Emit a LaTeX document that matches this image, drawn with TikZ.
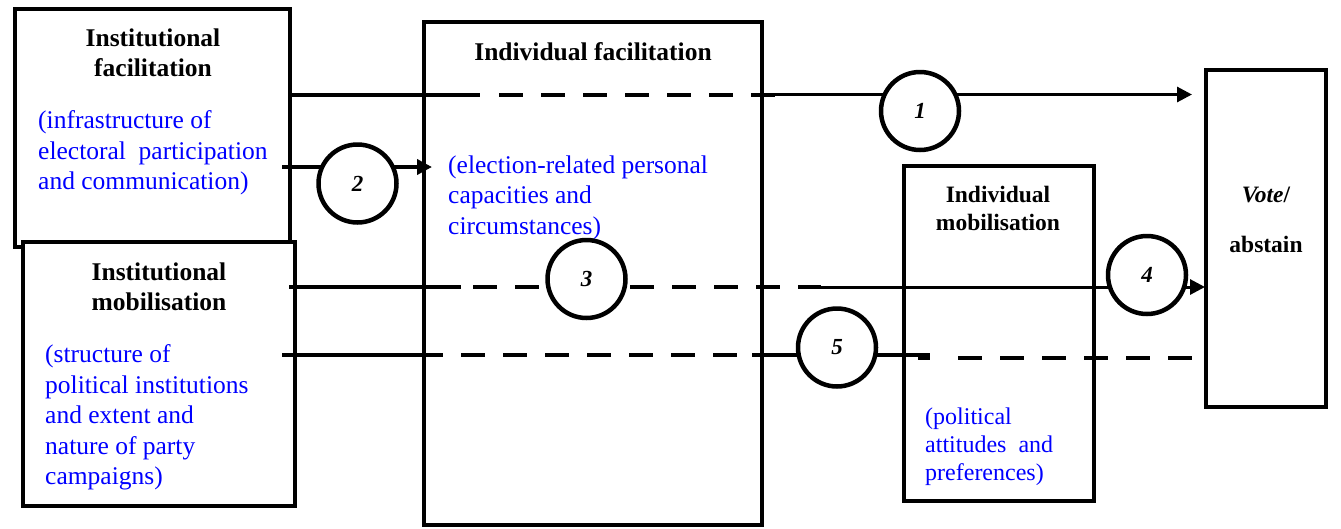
\documentclass[tikz,border=0pt]{standalone}
\usepackage{fontspec}
\setmainfont{Liberation Serif}
\usetikzlibrary{arrows.meta}
\definecolor{descblue}{RGB}{0,0,255}
\begin{document}
\begin{tikzpicture}[x=1pt,y=-1pt,
  box/.style={draw, line width=4.5pt, fill=white, inner sep=0pt, outer sep=0pt},
  ttl/.style={font=\fontsize{25.5}{30}\selectfont\bfseries, align=center, inner sep=0pt, anchor=north},
  ttlsmall/.style={font=\fontsize{23.5}{28}\selectfont\bfseries, align=center, inner sep=0pt, anchor=north},
  desc/.style={font=\fontsize{25.5}{30.5}\selectfont, text=descblue, align=left, inner sep=0pt, anchor=north west},
  descsmall/.style={font=\fontsize{24}{28}\selectfont, text=descblue, align=left, inner sep=0pt, anchor=north west},
  num/.style={draw, circle, line width=4.5pt, fill=white, minimum size=78pt, inner sep=0pt, font=\fontsize{23}{23}\selectfont\bfseries\itshape},
  thickline/.style={line width=4pt},
  thinline/.style={line width=3pt},
  dashline/.style={line width=4pt, dash pattern=on 24pt off 18pt},
  tip/.style={-{Triangle[length=15pt,width=15pt]}}
]
\useasboundingbox (0,0) rectangle (1341,528);

% boxes
\node[box, minimum width=275pt, minimum height=238pt] (instfac) at (152.5,128) {};
\node[box, minimum width=272pt, minimum height=264pt] (instmob) at (159,374) {};
\node[box, minimum width=338pt, minimum height=503pt] (indfac) at (593,273.5) {};
\node[box, minimum width=190pt, minimum height=335pt] (indmob) at (999,333.5) {};
\node[box, minimum width=120pt, minimum height=337pt] (vote) at (1266,238.5) {};

% texts
\node[ttl] (t1) at (153,28.5) {Institutional\\facilitation};
\node[desc] (d1) at (38,110.5) {(infrastructure of\\electoral~~participation\\and communication)};
\node[ttl] (t2) at (159,262.5) {Institutional\\mobilisation};
\node[desc] (d2) at (45,344.5) {(structure of\\political institutions\\and extent and\\nature of party\\campaigns)};
\node[ttl] (t3) at (593,42.5) {Individual facilitation};
\node[desc] (d3) at (448,155.5) {(election-related personal\\capacities and\\circumstances)};
\node[ttlsmall] (t4) at (998,186) {Individual\\mobilisation};
\node[descsmall] (d4) at (925,407.5) {(political\\attitudes~~and\\preferences)};
\node[ttlsmall] (t5) at (1266,187) {\textit{Vote}/\\[22pt]abstain};

% connector coordinates
\coordinate (l1a) at (290,94.5);
\coordinate (l1b) at (480,94.5);
\coordinate (l1c) at (499,94.5);
\coordinate (l1d) at (775,94.5);
\coordinate (l1e) at (1192,94.5);

\coordinate (l2a) at (282,167);
\coordinate (l2b) at (432,167);

\coordinate (l3a) at (289,287);
\coordinate (l3b) at (461,287);
\coordinate (l3c) at (473,287);
\coordinate (l3d) at (539,287);
\coordinate (l3e) at (630,287);
\coordinate (l3f) at (821,287);
\coordinate (l3g) at (1205,287);

\coordinate (l5a) at (282,355);
\coordinate (l5b) at (443,355);
\coordinate (l5c) at (461,355);
\coordinate (l5d) at (737,355);
\coordinate (l5e) at (752,355);
\coordinate (l5f) at (930,355);
\coordinate (l5s) at (918,358.3);
\coordinate (l5t) at (930,358.3);
\coordinate (l5g) at (958,358.3);
\coordinate (l5h) at (1192,358.3);

% connector 1
\draw[thickline] (l1a) -- (l1b);
\draw[dashline] (l1c) -- (l1d);
\draw[thinline, tip] (l1d) -- (l1e);
% connector 2
\draw[thickline, tip] (l2a) -- (l2b);
% connector 3 / 4
\draw[thickline] (l3a) -- (l3b);
\draw[dashline] (l3c) -- (l3d);
\draw[dashline] (l3e) -- (l3f);
\draw[thinline, tip] (l3f) -- (l3g);
% connector 5
\draw[thickline] (l5a) -- (l5b);
\draw[dashline] (l5c) -- (l5d);
\draw[thickline] (l5e) -- (l5f);
\draw[thickline] (l5s) -- (l5t);
\draw[dashline] (l5g) -- (l5h);

% numbered circles
\node[num] (c1) at (920,111) {1};
\node[num] (c2) at (357.5,183.5) {2};
\node[num] (c3) at (586.5,279) {3};
\node[num] (c4) at (1147,275) {4};
\node[num] (c5) at (837,347.5) {5};
\end{tikzpicture}
\end{document}
